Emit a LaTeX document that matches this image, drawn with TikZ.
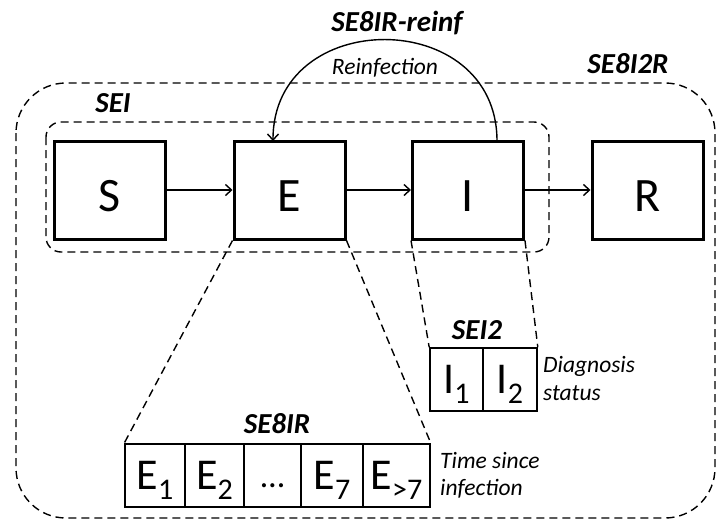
\documentclass[tikz,border=0pt]{standalone}
\usepackage{fontspec}
\setmainfont{Carlito}
\usetikzlibrary{arrows.meta}
\newcommand{\mysub}[1]{\raisebox{-10pt}[0pt][0pt]{\fontsize{30}{30}\selectfont #1}}
\newcommand{\lowr}[1]{\raisebox{-6pt}[\height][0pt]{#1}}
\tikzset{
  bigbox/.style={draw, line width=3pt, minimum width=111pt, minimum height=98pt, inner sep=0pt, font=\fontsize{48}{48}\selectfont},
  cell/.style={draw, line width=1.6pt, minimum height=63pt, inner sep=0pt, font=\fontsize{44}{44}\selectfont},
  lbl/.style={font=\fontsize{29}{29}\selectfont\bfseries\itshape, inner sep=0pt, anchor=base},
  note/.style={font=\fontsize{23.5}{28}\selectfont\itshape, inner sep=0pt, anchor=base west},
  dsh/.style={line width=1.4pt, dash pattern=on 8pt off 5pt},
  arr/.style={line width=1.4pt, -{Straight Barb[length=6pt,width=11pt,line width=1.4pt]}}
}
\begin{document}
\begin{tikzpicture}[x=1pt,y=-1pt]
\useasboundingbox (0,0) rectangle (718,520);
% outer and SEI frames
\draw[dsh, rounded corners=50pt] (16,83) rectangle (715,518);
\draw[dsh, rounded corners=15pt] (46,122) rectangle (549,252);
% main boxes
\node[bigbox] (S) at (110,190) {\lowr{S}};
\node[bigbox] (E) at (289.5,190) {\lowr{E}};
\node[bigbox] (I) at (468,190) {\lowr{I}};
\node[bigbox] (R) at (647.5,190) {\lowr{R}};
\draw[arr] (S.east) -- (E.west);
\draw[arr] (E.east) -- (I.west);
\draw[arr] (I.east) -- (R.west);
% reinfection loop
\coordinate (Itop) at (497,141);
\coordinate (Etop) at (273,141);
\draw[arr] (Itop) .. controls (497,6) and (273,6) .. (Etop);
% labels
\node[lbl] (reinflbl) at (397,31) {SE8IR-reinf};
\node[note, anchor=base] (reinfnote) at (385,74) {Reinfection};
\node[lbl] (se8i2rlbl) at (628,73) {SE8I2R};
\node[lbl] (seilbl) at (113,112) {SEI};
% E cells
\node[cell, minimum width=60pt] (E1) at (155,475.5) {E\mysub{1}};
\node[cell, minimum width=59pt] (E2) at (214.5,475.5) {E\mysub{2}};
\node[cell, minimum width=57pt] (Edots) at (272.5,475.5) {\raisebox{-12pt}[0pt][0pt]{\fontsize{34}{34}\selectfont …}};
\node[cell, minimum width=62pt] (E7) at (332,475.5) {E\mysub{7}};
\node[cell, minimum width=67pt] (E8) at (396.5,475.5) {E\mysub{>7}};
\node[lbl] (se8irlbl) at (277,433) {SE8IR};
\node[note] (timenote1) at (440,468) {Time since};
\node[note] (timenote2) at (440,495) {infection};
% I cells
\node[cell, minimum width=53pt] (I1) at (456.5,379.5) {I\mysub{1}};
\node[cell, minimum width=54pt] (I2) at (510,379.5) {I\mysub{2}};
\node[lbl] (sei2lbl) at (477,339) {SEI2};
\node[note] (diagnote1) at (543,372) {Diagnosis};
\node[note] (diagnote2) at (543,400) {status};
% zoom lines
\draw[dsh] (E.south west) -- (E1.north west);
\draw[dsh] (E.south east) -- (E8.north east);
\draw[dsh] (I.south west) -- (I1.north west);
\draw[dsh] (I.south east) -- (I2.north east);
\end{tikzpicture}
\end{document}
